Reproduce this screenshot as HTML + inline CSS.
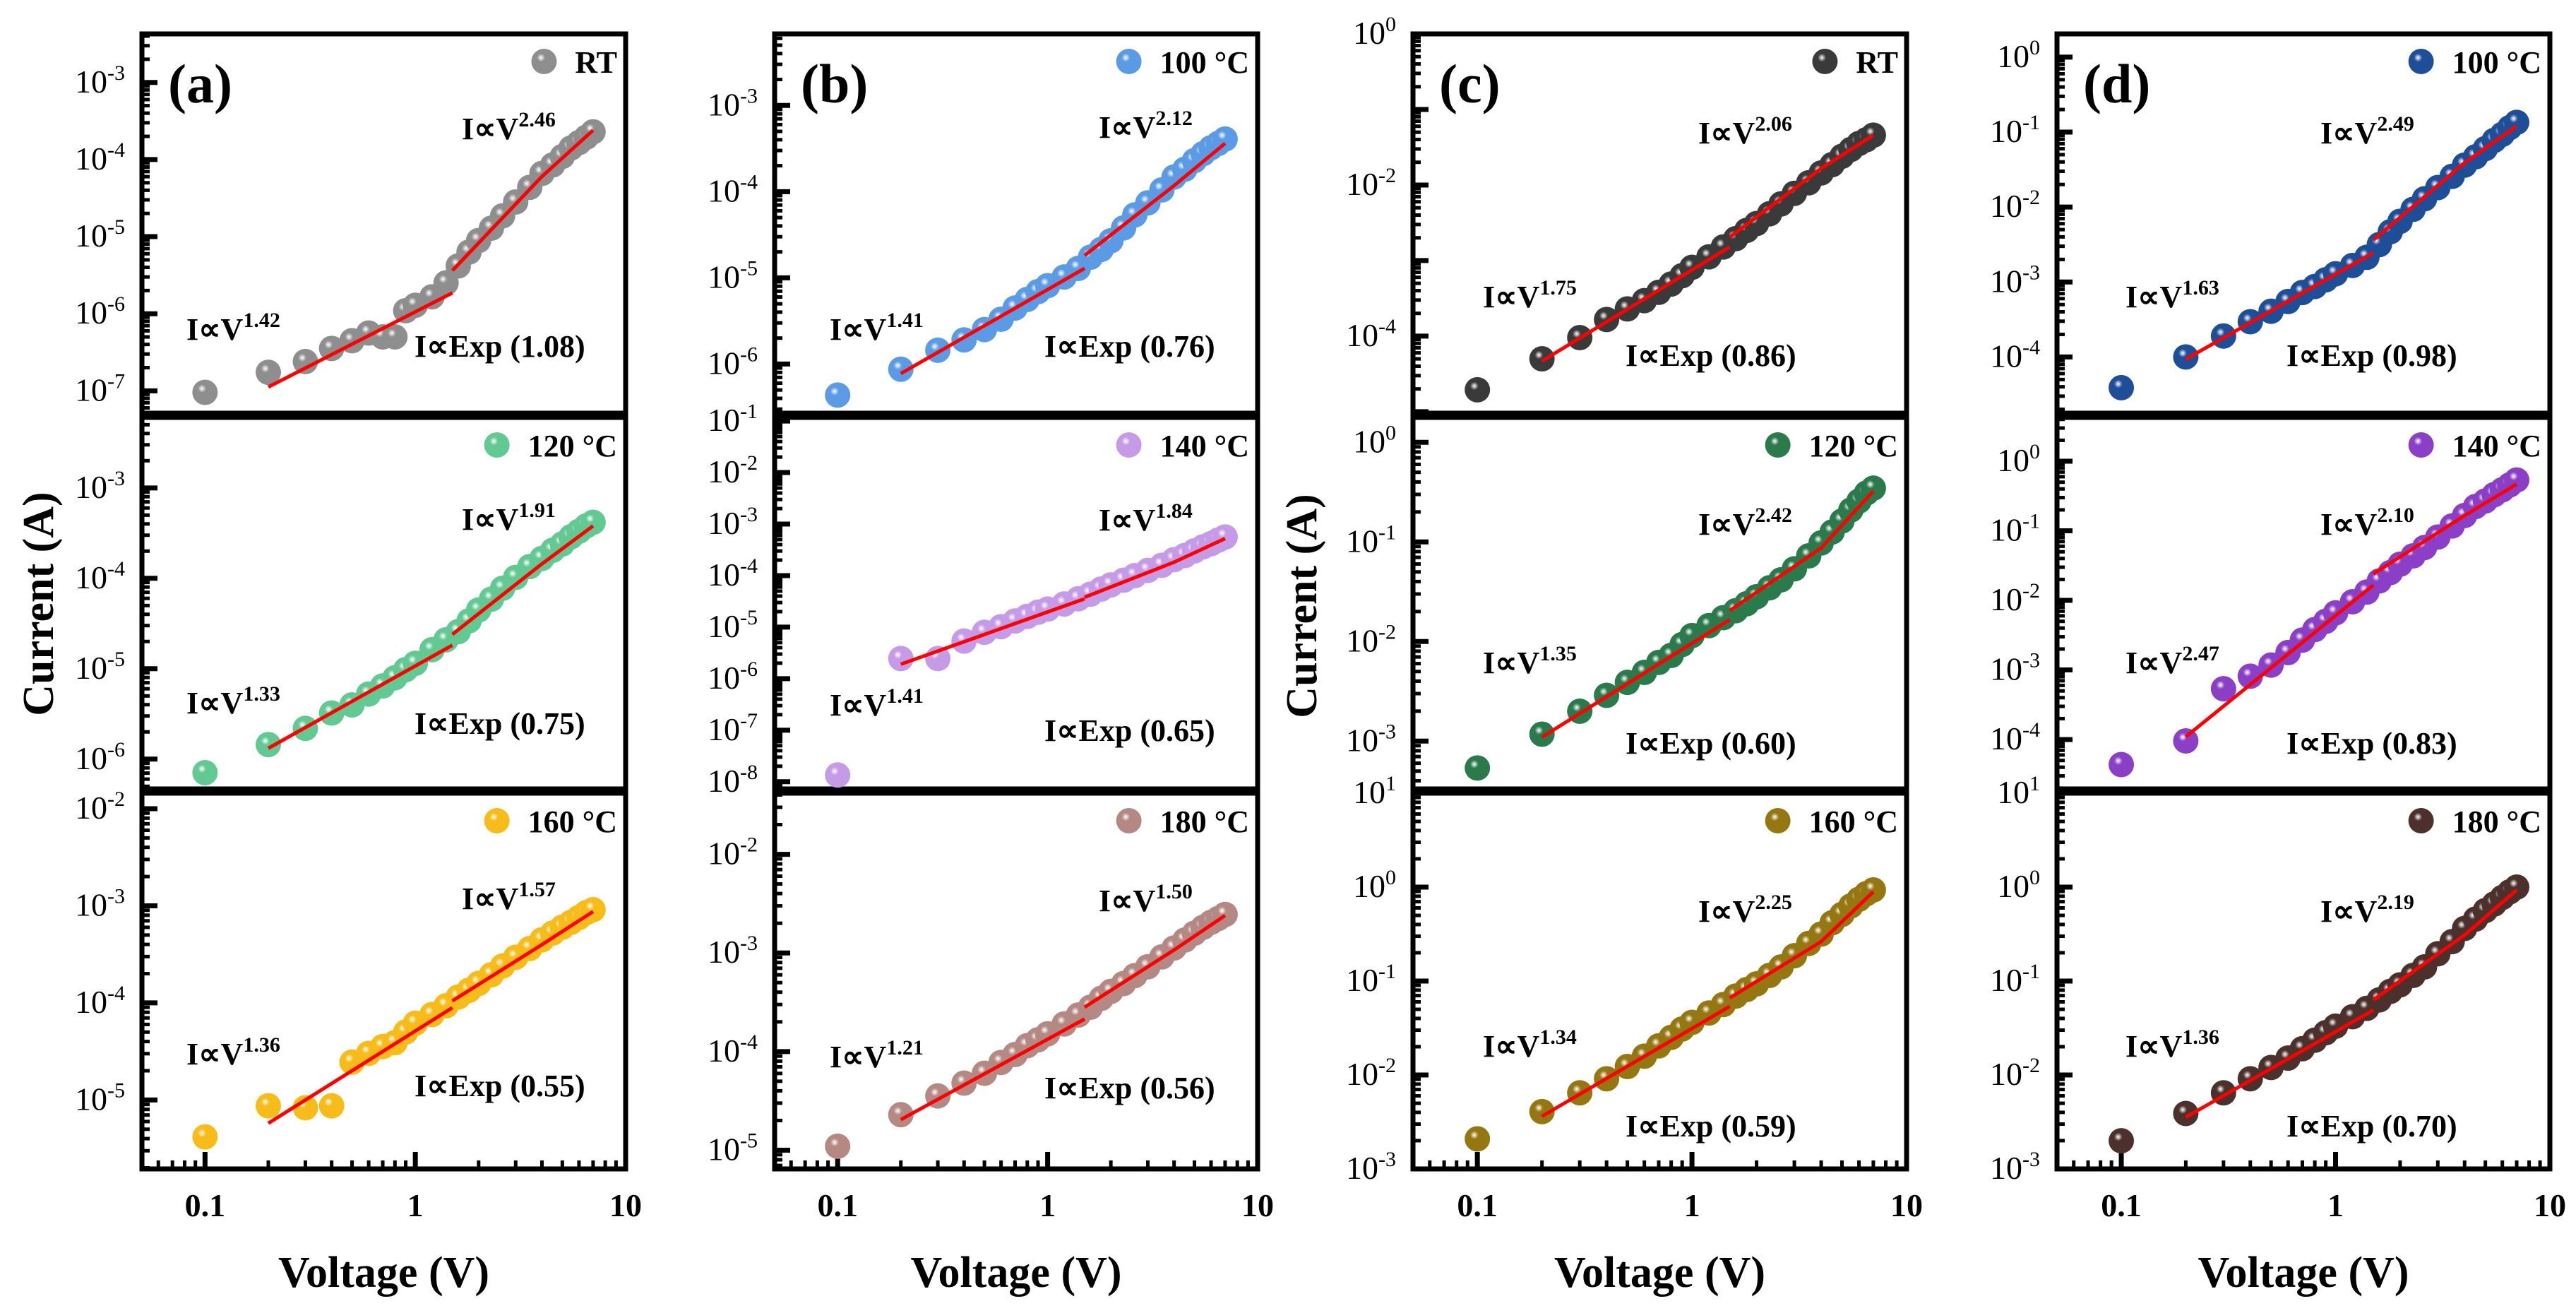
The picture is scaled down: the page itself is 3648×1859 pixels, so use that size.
<!DOCTYPE html>
<html><head><meta charset="utf-8">
<style>
html,body{margin:0;padding:0;background:#fff;}
svg{display:block;font-family:"Liberation Serif",serif;font-weight:bold;}
</style></head>
<body>
<svg id="fig" xmlns="http://www.w3.org/2000/svg" width="3648" height="1859" viewBox="0 0 3648 1859">
<defs></defs>
</svg>
<script>
// ---- data (log10 of current in A) ----
const voltages = [0.1,0.2,0.3,0.4,0.5,0.6,0.7,0.8,0.9,1,1.2,1.4,1.6,1.8,2,2.3,2.6,3,3.5,4,4.5,5,5.5,6,6.5,7];
const fitLowV = [0.2,1.5];
const fitHighV = [1.5,4,7];

const logI_a_RT  = [-7.02,-6.76,-6.62,-6.45,-6.35,-6.25,-6.3,-6.3,-5.96,-5.89,-5.78,-5.6,-5.38,-5.2,-5.05,-4.89,-4.73,-4.55,-4.36,-4.18,-4.07,-3.96,-3.85,-3.78,-3.71,-3.64];
const logI_a_120 = [-6.15,-5.84,-5.66,-5.49,-5.4,-5.28,-5.19,-5.1,-5.01,-4.94,-4.79,-4.68,-4.59,-4.47,-4.35,-4.23,-4.11,-3.99,-3.87,-3.78,-3.69,-3.62,-3.54,-3.48,-3.42,-3.38];
const logI_a_160 = [-5.38,-5.06,-5.08,-5.06,-4.61,-4.52,-4.45,-4.41,-4.3,-4.21,-4.12,-4.03,-3.94,-3.87,-3.8,-3.71,-3.62,-3.53,-3.44,-3.35,-3.28,-3.22,-3.17,-3.12,-3.07,-3.04];
const logI_b_100 = [-6.36,-6.06,-5.84,-5.72,-5.6,-5.48,-5.35,-5.25,-5.16,-5.09,-4.99,-4.89,-4.76,-4.67,-4.57,-4.42,-4.27,-4.13,-3.98,-3.83,-3.74,-3.64,-3.56,-3.49,-3.44,-3.39];
const logI_b_140 = [-7.87,-5.61,-5.61,-5.27,-5.1,-4.99,-4.88,-4.79,-4.71,-4.65,-4.55,-4.45,-4.36,-4.26,-4.18,-4.09,-4.0,-3.9,-3.8,-3.69,-3.61,-3.52,-3.44,-3.38,-3.31,-3.25];
const logI_b_180 = [-4.96,-4.64,-4.45,-4.32,-4.22,-4.11,-4.03,-3.94,-3.88,-3.82,-3.72,-3.63,-3.55,-3.46,-3.39,-3.31,-3.23,-3.14,-3.04,-2.95,-2.87,-2.8,-2.74,-2.69,-2.65,-2.61];
const logI_c_RT  = [-4.71,-4.3,-4.02,-3.78,-3.64,-3.53,-3.42,-3.31,-3.2,-3.09,-2.95,-2.82,-2.71,-2.6,-2.51,-2.38,-2.25,-2.11,-1.97,-1.84,-1.73,-1.62,-1.53,-1.45,-1.4,-1.34];
const logI_c_120 = [-3.27,-2.93,-2.7,-2.54,-2.41,-2.31,-2.21,-2.14,-2.03,-1.94,-1.84,-1.76,-1.69,-1.62,-1.55,-1.46,-1.38,-1.27,-1.14,-1.01,-0.9,-0.79,-0.68,-0.59,-0.51,-0.46];
const logI_c_160 = [-2.68,-2.39,-2.19,-2.04,-1.91,-1.8,-1.69,-1.6,-1.51,-1.44,-1.34,-1.25,-1.16,-1.09,-1.03,-0.94,-0.85,-0.73,-0.6,-0.5,-0.38,-0.29,-0.2,-0.13,-0.07,-0.03];
const logI_d_100 = [-4.41,-4.0,-3.72,-3.53,-3.39,-3.26,-3.14,-3.06,-2.97,-2.89,-2.78,-2.67,-2.5,-2.33,-2.19,-2.03,-1.89,-1.74,-1.59,-1.44,-1.33,-1.22,-1.11,-1.03,-0.94,-0.87];
const logI_d_140 = [-4.36,-4.02,-3.27,-3.09,-2.93,-2.75,-2.57,-2.42,-2.3,-2.18,-2.02,-1.88,-1.72,-1.6,-1.48,-1.36,-1.24,-1.09,-0.93,-0.78,-0.65,-0.57,-0.48,-0.41,-0.34,-0.27];
const logI_d_180 = [-2.7,-2.41,-2.19,-2.04,-1.92,-1.82,-1.72,-1.63,-1.55,-1.48,-1.38,-1.29,-1.2,-1.11,-1.04,-0.94,-0.85,-0.71,-0.58,-0.44,-0.34,-0.25,-0.18,-0.11,-0.05,0.0];

const fitLow_a_RT=[-6.95,-5.73],  fitHigh_a_RT=[-5.44,-4.22,-3.62];
const fitLow_a_120=[-5.88,-4.74], fitHigh_a_120=[-4.62,-3.84,-3.42];
const fitLow_a_160=[-5.24,-4.05], fitHigh_a_160=[-3.98,-3.4,-3.06];
const fitLow_b_100=[-6.11,-4.89], fitHigh_b_100=[-4.74,-3.93,-3.44];
const fitLow_b_140=[-5.72,-4.45], fitHigh_b_140=[-4.42,-3.74,-3.28];
const fitLow_b_180=[-4.69,-3.67], fitHigh_b_180=[-3.55,-2.97,-2.62];
const fitLow_c_RT=[-4.33,-2.82],  fitHigh_c_RT=[-2.69,-1.78,-1.34];
const fitLow_c_120=[-2.96,-1.78], fitHigh_c_120=[-1.69,-1.06,-0.49];
const fitLow_c_160=[-2.44,-1.27], fitHigh_c_160=[-1.18,-0.58,-0.05];
const fitLow_d_100=[-4.03,-2.61], fitHigh_d_100=[-2.44,-1.41,-0.92];
const fitLow_d_140=[-3.96,-1.78], fitHigh_d_140=[-1.62,-0.78,-0.33];
const fitLow_d_180=[-2.45,-1.31], fitHigh_d_180=[-1.2,-0.51,-0.03];

const legendNames = ["RT","120 °C","160 °C","100 °C","140 °C","180 °C","RT","120 °C","160 °C","100 °C","140 °C","180 °C"];
const lowExps  = ["1.42","1.33","1.36","1.41","1.41","1.21","1.75","1.35","1.34","1.63","2.47","1.36"];
const highExps = ["2.46","1.91","1.57","2.12","1.84","1.50","2.06","2.42","2.25","2.49","2.10","2.19"];
const expVals  = ["1.08","0.75","0.55","0.76","0.65","0.56","0.86","0.60","0.59","0.98","0.83","0.70"];

// ---- layout ----
const NS="http://www.w3.org/2000/svg";
const svg=document.getElementById('fig');
const defs=svg.querySelector('defs');
const panels=[
 {key:'a',x0:201,x1:886, lx:[453,63,386]},
 {key:'b',x0:1097,x1:1781,lx:[459,78,382]},
 {key:'c',x0:2001,x1:2700,lx:[404,99,301]},
 {key:'d',x0:2913,x1:3611,lx:[373,97,325]}];
const rows=[{top:48,bottom:585},{top:591,bottom:1117},{top:1123,bottom:1655}];
const xDom=[-1.3,1.0];
const subs=[
 {p:0,r:0,data:logI_a_RT,fl:fitLow_a_RT,fh:fitHigh_a_RT,dom:[-7.29,-2.37],col:'#8e8e8e',ly:[149,433,457],lab:[-3,-4,-5,-6,-7]},
 {p:0,r:1,data:logI_a_120,fl:fitLow_a_120,fh:fitHigh_a_120,dom:[-6.33,-2.22],col:'#63c993',ly:[159,419,448],lab:[-3,-4,-5,-6]},
 {p:0,r:2,data:logI_a_160,fl:fitLow_a_160,fh:fitHigh_a_160,dom:[-5.71,-1.84],col:'#f7bb1a',ly:[164,384,429],lab:[-2,-3,-4,-5]},
 {p:1,r:0,data:logI_b_100,fl:fitLow_b_100,fh:fitHigh_b_100,dom:[-6.57,-2.17],col:'#5b9be6',ly:[147,433,457],lab:[-3,-4,-5,-6]},
 {p:1,r:1,data:logI_b_140,fl:fitLow_b_140,fh:fitHigh_b_140,dom:[-8.14,-0.93],col:'#c59ae6',ly:[160,422,458],lab:[-1,-2,-3,-4,-5,-6,-7,-8]},
 {p:1,r:2,data:logI_b_180,fl:fitLow_b_180,fh:fitHigh_b_180,dom:[-5.19,-1.38],col:'#b48883',ly:[167,388,432],lab:[-2,-3,-4,-5]},
 {p:2,r:0,data:logI_c_RT,fl:fitLow_c_RT,fh:fitHigh_c_RT,dom:[-5.02,0],col:'#3a3a3a',ly:[155,387,470],lab:[0,-2,-4]},
 {p:2,r:1,data:logI_c_120,fl:fitLow_c_120,fh:fitHigh_c_120,dom:[-3.48,0.25],col:'#2a7a4c',ly:[166,362,476],lab:[0,-1,-2,-3]},
 {p:2,r:2,data:logI_c_160,fl:fitLow_c_160,fh:fitHigh_c_160,dom:[-3,1],col:'#957712',ly:[182,373,486],lab:[1,0,-1,-2,-3]},
 {p:3,r:0,data:logI_d_100,fl:fitLow_d_100,fh:fitHigh_d_100,dom:[-4.75,0.31],col:'#1f4e98',ly:[155,387,470],lab:[0,-1,-2,-3,-4]},
 {p:3,r:1,data:logI_d_140,fl:fitLow_d_140,fh:fitHigh_d_140,dom:[-4.71,0.63],col:'#8a3fc6',ly:[166,362,476],lab:[0,-1,-2,-3,-4]},
 {p:3,r:2,data:logI_d_180,fl:fitLow_d_180,fh:fitHigh_d_180,dom:[-3,1],col:'#4b302c',ly:[182,373,486],lab:[1,0,-1,-2,-3]}];

function mk(tag,attrs,parent){const e=document.createElementNS(NS,tag);for(const k in attrs)e.setAttribute(k,attrs[k]);(parent||svg).appendChild(e);return e;}
function xs(p,v){return p.x0+(Math.log10(v)-xDom[0])/(xDom[1]-xDom[0])*(p.x1-p.x0);}
function ys(s,row,l){return row.bottom-(l-s.dom[0])/(s.dom[1]-s.dom[0])*(row.bottom-row.top);}

subs.forEach((s,i)=>{
  const g=mk('radialGradient',{id:'g'+i,cx:'0.38',cy:'0.35',r:'0.65'},defs);
  mk('stop',{offset:'0','stop-color':'#ffffff'},g);
  mk('stop',{offset:'0.25','stop-color':s.col},g);
  mk('stop',{offset:'1','stop-color':s.col},g);
});

subs.forEach((s,i)=>{
  const p=panels[s.p],row=rows[s.r];
  const grp=mk('g',{});
  
  
  // frame
  const fr=mk('rect',{x:p.x0,y:row.top,width:p.x1-p.x0,height:row.bottom-row.top,fill:'none',stroke:'#000','stroke-width':7},grp);
  
  
  // y ticks
  const lo=Math.floor(s.dom[0]),hi=Math.ceil(s.dom[1]);
  for(let e=lo;e<=hi;e++){
    for(let k=1;k<=9;k++){
      const l=e+Math.log10(k); if(l<s.dom[0]||l>s.dom[1]+0.001)continue;
      const y=ys(s,row,l);
      const t=mk('line',{x1:p.x0,x2:p.x0+(k===1?22:11),y1:y,y2:y,stroke:'#000','stroke-width':k===1?7:5},grp);
      
      
    }
  }
  s.lab.forEach(e=>{
    const y=ys(s,row,e);
    const t=mk('text',{x:p.x0-24,y:y+14,'text-anchor':'end','font-size':46,'font-weight':'normal'},grp);
    
    
    const a=mk('tspan',{},t);a.textContent='10';
    const b=mk('tspan',{dy:-18,'font-size':30},t);b.textContent=(e<0?'-':'')+Math.abs(e);
  });
  // x ticks on bottom row
  if(s.r===2){
    for(let e=-2;e<=1;e++)for(let k=1;k<=9;k++){
      const l=e+Math.log10(k); if(l<xDom[0]||l>xDom[1]+0.001)continue;
      const x=xs(p,Math.pow(10,l));
      const t=mk('line',{x1:x,x2:x,y1:row.bottom,y2:row.bottom-(k===1?24:12),stroke:'#000','stroke-width':k===1?7:5},grp);
      
      
    }
    [0.1,1,10].forEach(v=>{
      const t=mk('text',{x:xs(p,v),y:1722,'text-anchor':'middle','font-size':46},grp);
      
      
      t.textContent=String(v);
    });
  }
  // markers
  voltages.forEach((v,j)=>{
    const c=mk('circle',{cx:xs(p,v),cy:ys(s,row,s.data[j]),r:18,fill:'url(#g'+i+')'},grp);
    
    
  });
  // fits
  const pl1=mk('polyline',{points:fitLowV.map((v,j)=>xs(p,v)+','+ys(s,row,s.fl[j])).join(' '),fill:'none',stroke:'#ff0000','stroke-width':5},grp);
  
  
  const pl2=mk('polyline',{points:fitHighV.map((v,j)=>xs(p,v)+','+ys(s,row,s.fh[j])).join(' '),fill:'none',stroke:'#ff0000','stroke-width':5},grp);
  
  
  // annotations
  function vlab(x,y,ex,name){
    const t=mk('text',{x:x,y:y,'font-size':44},grp);
    
    
    const a=mk('tspan',{},t);a.textContent='I\u221DV';
    const b=mk('tspan',{dy:-18,'font-size':30},t);b.textContent=ex;
  }
  vlab(p.x0+p.lx[0],row.top+s.ly[0],highExps[i],'power-law-high-label');
  vlab(p.x0+p.lx[1],row.top+s.ly[1],lowExps[i],'power-law-low-label');
  const et=mk('text',{x:p.x0+p.lx[2],y:row.top+s.ly[2],'font-size':44},grp);
  
  
  et.textContent='I\u221DExp ('+expVals[i]+')';
  // legend
  const lt=mk('text',{x:p.x1-12,y:row.top+55,'text-anchor':'end','font-size':44},grp);
  
  
  lt.textContent=legendNames[i];
  let w=legendNames[i].length*24; try{w=lt.getComputedTextLength();}catch(e){}
  const lm=mk('circle',{cx:p.x1-12-w-44,cy:row.top+39,r:18,fill:'url(#g'+i+')'},grp);
  
  
  if(s.r===0){
    const pt=mk('text',{x:p.x0+37,y:row.top+97,'font-size':78},grp);
    
    
    pt.textContent='('+p.key+')';
  }
});

panels.forEach(p=>{
  const t=mk('text',{x:(p.x0+p.x1)/2,y:1822,'text-anchor':'middle','font-size':62});
  
  
  t.textContent='Voltage (V)';
});
[[55,855],[1844,858]].forEach(([x,y])=>{
  const t=mk('text',{x:x,y:y,'text-anchor':'middle','font-size':62,transform:'rotate(-90 '+x+' '+y+')','dominant-baseline':'central'});
  
  
  t.textContent='Current (A)';
});
</script>
</body></html>
